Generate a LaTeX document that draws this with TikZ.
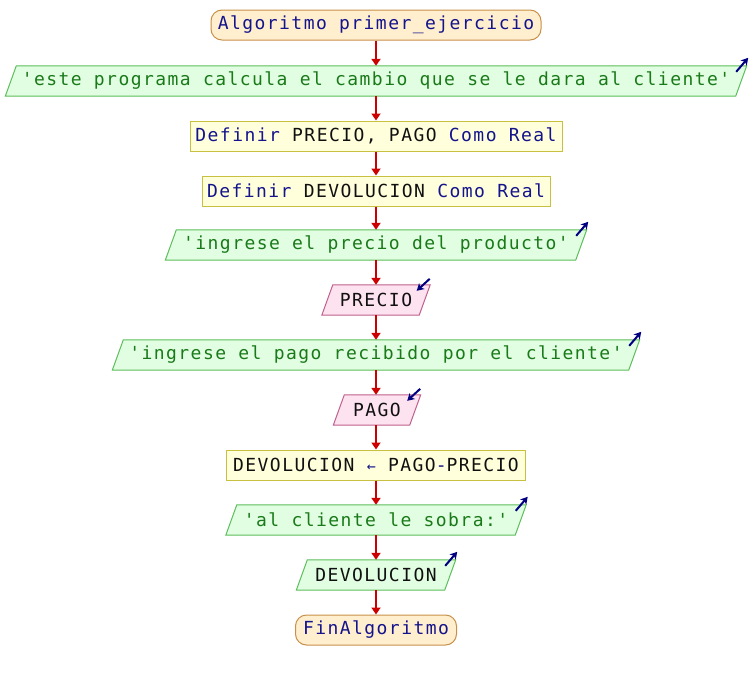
\documentclass[tikz,border=0pt]{standalone}
\usepackage{fontspec}
\newfontfamily\psefont{DejaVu Sans Mono}[LetterSpace=8]
\usetikzlibrary{arrows.meta,backgrounds}
\definecolor{kw}{HTML}{14148C}
\definecolor{str}{HTML}{1A7A1A}
\definecolor{idf}{HTML}{101010}
\definecolor{termf}{HTML}{FFEFCF}
\definecolor{termb}{HTML}{C8904A}
\definecolor{procf}{HTML}{FFFFDC}
\definecolor{procb}{HTML}{C8C040}
\definecolor{outf}{HTML}{E2FEE2}
\definecolor{outb}{HTML}{5CBE5C}
\definecolor{inf}{HTML}{FDE2F0}
\definecolor{inb}{HTML}{C0608C}
\definecolor{flow}{HTML}{CC0000}
\definecolor{icon}{HTML}{000080}
\tikzset{
  base/.style={minimum height=30pt, inner sep=0pt, font=\psefont\fontsize{18}{20}\selectfont},
  term/.style={base, draw=termb, fill=termf, rounded corners=11pt, line width=1pt},
  proc/.style={base, draw=procb, fill=procf, line width=1pt},
  io/.style={base},
  flowline/.style={draw=flow, line width=2pt, -{Triangle[width=9pt,length=7pt]}},
  iconline/.style={draw=icon, line width=2pt, -{Stealth[length=7pt,width=8pt,inset=2pt]}}
}
\newcommand{\paraShape}[3]{%
  \begin{pgfonlayer}{background}
  \path[draw=#2, fill=#3, line width=1pt]
    ([xshift=-5.5pt]#1.south west) -- ([xshift=5.5pt]#1.north west) --
    ([xshift=5.5pt]#1.north east) -- ([xshift=-5.5pt]#1.south east) -- cycle;
  \end{pgfonlayer}}
\begin{document}
\begin{tikzpicture}[x=1pt,y=-1pt]
\useasboundingbox (0,0) rectangle (752,680);
\node[term, minimum width=330pt] (start) at (376,25) {\color{kw}Algoritmo primer\_ejercicio};
\node[io, minimum width=730pt] (o1) at (376,81) {\color{str}'este programa calcula el cambio que se le dara al cliente'};
\node[proc, minimum width=372pt] (d1) at (376,136) {\color{kw}Definir \color{idf}PRECIO, PAGO \color{kw}Como Real};
\node[proc, minimum width=348pt] (d2) at (376,191) {\color{kw}Definir \color{idf}DEVOLUCION \color{kw}Como Real};
\node[io, minimum width=410pt] (o2) at (376,245) {\color{str}'ingrese el precio del producto'};
\node[io, minimum width=97pt] (i1) at (376,300) {\color{idf}PRECIO};
\node[io, minimum width=516pt] (o3) at (376,355) {\color{str}'ingrese el pago recibido por el cliente'};
\node[io, minimum width=76pt] (i2) at (377,410) {\color{idf}PAGO};
\node[proc, minimum width=299pt] (p3) at (376,465) {\color{idf}DEVOLUCION \color{kw}\fontsize{15}{16}\selectfont ←\fontsize{18}{20}\selectfont{} \color{idf}PAGO\color{kw}-\color{idf}PRECIO};
\node[io, minimum width=289pt] (o4) at (376,520) {\color{str}'al cliente le sobra:'};
\node[io, minimum width=148pt] (o5) at (376,575) {\color{idf}DEVOLUCION};
\node[term, minimum width=161pt] (end) at (376,630) {\color{kw}FinAlgoritmo};
\paraShape{o1}{outb}{outf}
\paraShape{o2}{outb}{outf}
\paraShape{o3}{outb}{outf}
\paraShape{o4}{outb}{outf}
\paraShape{o5}{outb}{outf}
\paraShape{i1}{inb}{inf}
\paraShape{i2}{inb}{inf}
\draw[flowline] (start) -- (o1);
\draw[flowline] (o1) -- (d1);
\draw[flowline] (d1) -- (d2);
\draw[flowline] (d2) -- (o2);
\draw[flowline] (o2) -- (i1);
\draw[flowline] (i1) -- (o3);
\draw[flowline] (o3) -- (i2.north -| o3.south);
\draw[flowline] (i2.south -| o3.south) -- (p3);
\draw[flowline] (p3) -- (o4);
\draw[flowline] (o4) -- (o5);
\draw[flowline] (o5) -- (end);
% output icons
\foreach \n in {o1,o2,o3,o4,o5}{
  \draw[iconline] ([xshift=-5pt,yshift=-6pt]\n.north east) -- ([xshift=7pt,yshift=8pt]\n.north east);
}
% input icons
\foreach \n in {i1,i2}{
  \draw[iconline] ([xshift=5pt,yshift=6pt]\n.north east) -- ([xshift=-8pt,yshift=-6pt]\n.north east);
}
\end{tikzpicture}
\end{document}
